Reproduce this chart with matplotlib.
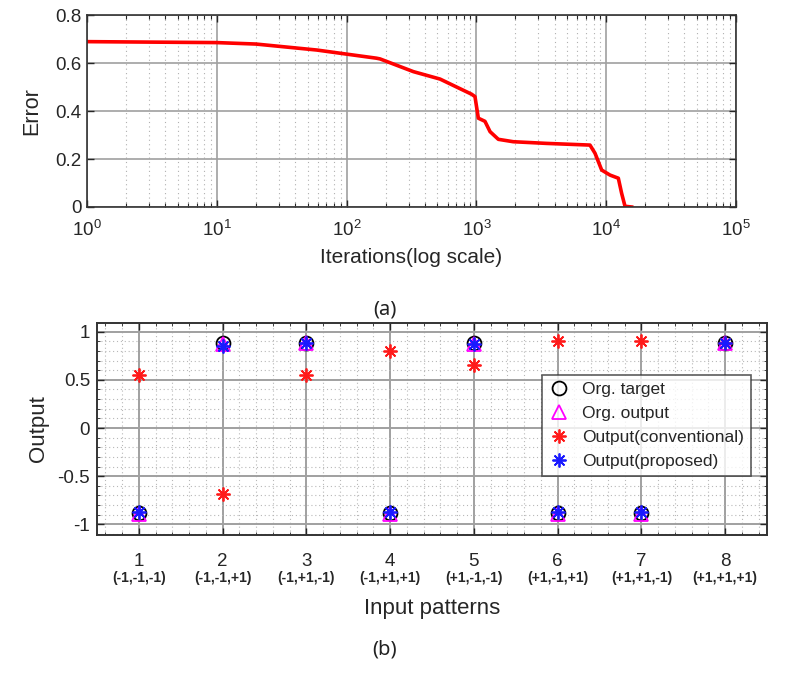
import matplotlib
matplotlib.use("Agg")
import matplotlib.pyplot as plt
import matplotlib.transforms as mtransforms
from matplotlib.ticker import LogLocator, MultipleLocator, NullFormatter
import numpy as np

plt.rcParams['font.family'] = ['Liberation Sans', 'DejaVu Sans']

# ---------------- data (a) ----------------
iterations = [1, 10, 20, 59, 100, 170, 181, 327, 525, 703, 918, 975, 1035, 1164,
              1274, 1476, 1923, 3475, 7500, 8200, 9230, 10700, 12400, 13150, 13960, 15700]
error = [0.689, 0.685, 0.679, 0.654, 0.637, 0.620, 0.617, 0.564, 0.533, 0.500, 0.470,
         0.460, 0.370, 0.357, 0.314, 0.282, 0.272, 0.265, 0.258, 0.224, 0.154, 0.133,
         0.120, 0.057, 0.003, 0.0]
a_yticks = [0, 0.2, 0.4, 0.6, 0.8]
a_yticklabels = ['0', '0.2', '0.4', '0.6', '0.8']

# ---------------- data (b) ----------------
patterns = [1, 2, 3, 4, 5, 6, 7, 8]
pattern_labels = ['(-1,-1,-1)', '(-1,-1,+1)', '(-1,+1,-1)', '(-1,+1,+1)',
                  '(+1,-1,-1)', '(+1,-1,+1)', '(+1,+1,-1)', '(+1,+1,+1)']
org_target = [-0.88, 0.88, 0.88, -0.88, 0.88, -0.88, -0.88, 0.88]
org_output = [-0.89, 0.87, 0.88, -0.89, 0.87, -0.89, -0.89, 0.88]
out_conventional = [0.55, -0.68, 0.55, 0.80, 0.65, 0.90, 0.90, 0.88]
out_proposed = [-0.87, 0.85, 0.88, -0.87, 0.87, -0.87, -0.87, 0.88]
b_yticks = [-1, -0.5, 0, 0.5, 1]
b_yticklabels = ['-1', '-0.5', '0', '0.5', '1']

W, H = 794, 678
fig = plt.figure(figsize=(W / 100, H / 100), dpi=100)

txt = '#262626'
gridc = '#a0a0a0'

# ---------------- (a) ----------------
ax1 = fig.add_axes([87 / W, 1 - 207 / H, (736 - 87) / W, (207 - 15) / H])
ax1.plot(iterations, error, color='#ff0000', lw=2.6, solid_joinstyle='round')
ax1.set_xscale('log')
ax1.set_xlim(1, 1e5)
ax1.set_ylim(0, 0.8)
ax1.set_yticks(a_yticks)
ax1.set_yticklabels(a_yticklabels)
ax1.xaxis.set_major_locator(LogLocator(base=10, numticks=10))
ax1.xaxis.set_minor_locator(LogLocator(base=10, subs=np.arange(2, 10), numticks=100))
ax1.xaxis.set_minor_formatter(NullFormatter())
ax1.grid(True, which='major', color=gridc, lw=1.2, ls='-')
ax1.grid(True, which='minor', axis='x', color='#b0b0b0', lw=0.8, ls=(0, (1, 3)))
ax1.set_axisbelow(True)
ax1.tick_params(which='both', direction='in', top=True, right=True, colors=txt,
                labelsize=13.5, labelcolor=txt)
ax1.tick_params(which='major', length=5, width=1)
ax1.tick_params(which='minor', length=3, width=0.8)
ax1.tick_params(axis='x', which='major', pad=9)
ax1.tick_params(axis='y', which='major', pad=4)
for s in ax1.spines.values():
    s.set_color('#333333')
    s.set_linewidth(1.2)
ax1.set_xlabel('Iterations(log scale)', fontsize=15, color=txt, labelpad=6)
ax1.set_ylabel('Error', fontsize=15.5, color=txt, labelpad=9)

fig.text(385 / W, 1 - 310 / H, '(a)', ha='center', va='center', fontsize=14.5,
         family=['Noto Sans', 'DejaVu Sans'], color='#222222')

# ---------------- (b) ----------------
ax2 = fig.add_axes([97 / W, 1 - 535 / H, (767 - 97) / W, (535 - 323) / H])
ax2.set_xlim(0.5, 8.5)
ax2.set_ylim(-1.11, 1.09)
ax2.plot(patterns, org_target, ls='none', marker='o', ms=10, mfc='none', mec='black',
         mew=1.3, label='Org. target')
ax2.plot(patterns, org_output, ls='none', marker='^', ms=10, mfc='none', mec='#ff00ff',
         mew=1.3, label='Org. output')
ax2.plot(patterns, out_conventional, ls='none', marker=(8, 2, 0), ms=10, mec='#ff1a1a',
         color='#ff1a1a', mew=1.3, label='Output(conventional)')
ax2.plot(patterns, out_proposed, ls='none', marker=(8, 2, 0), ms=10, mec='#1a1aff',
         color='#1a1aff', mew=1.3, label='Output(proposed)')
ax2.set_xticks(patterns)
ax2.set_xticklabels([str(p) for p in patterns])
ax2.set_yticks(b_yticks)
ax2.set_yticklabels(b_yticklabels)
ax2.xaxis.set_minor_locator(MultipleLocator(0.2))
ax2.yaxis.set_minor_locator(MultipleLocator(0.1))
ax2.grid(True, which='major', color=gridc, lw=1.4, ls='-')
ax2.grid(True, which='minor', color='#b8b8b8', lw=0.8, ls=(0, (1, 2.5)))
ax2.set_axisbelow(True)
ax2.tick_params(which='both', direction='in', top=True, right=True, colors=txt,
                labelsize=13.5, labelcolor=txt)
ax2.tick_params(which='major', length=5, width=1)
ax2.tick_params(axis='x', which='major', pad=13)
ax2.tick_params(axis='y', which='major', pad=5)
ax2.tick_params(which='minor', length=2, width=0.6)
for s in ax2.spines.values():
    s.set_color('#333333')
    s.set_linewidth(1.4)

trans = mtransforms.blended_transform_factory(ax2.transData, fig.transFigure)
for p, lab in zip(patterns, pattern_labels):
    ax2.text(p, 1 - 578 / H, lab, transform=trans, ha='center', va='center',
             fontsize=10, fontweight='bold', color=txt)

ax2.set_xlabel('Input patterns', fontsize=16, color=txt, labelpad=20)
ax2.set_ylabel('Output', fontsize=16, color=txt, labelpad=6)

leg = ax2.legend(loc='upper left', bbox_to_anchor=((542 - 97) / 670, (535 - 375) / 212),
                 fontsize=12.5, frameon=True, fancybox=False, edgecolor='#333333',
                 borderpad=0.4, labelspacing=0.5, handlelength=1.2, handletextpad=0.7,
                 borderaxespad=0)
leg.get_frame().set_linewidth(1.2)
for t in leg.get_texts():
    t.set_color(txt)

fig.text(385 / W, 1 - 650 / H, '(b)', ha='center', va='center', fontsize=14.5,
         family=['Noto Sans', 'DejaVu Sans'], color='#222222')

fig.savefig('out.png', dpi=100)
